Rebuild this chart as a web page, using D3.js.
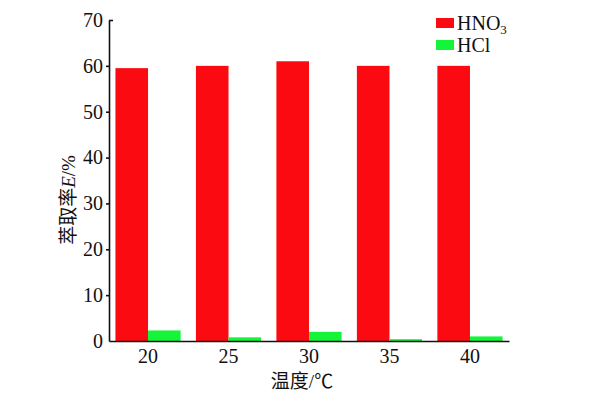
<!DOCTYPE html>
<html>
<head>
<meta charset="utf-8">
<script src="https://cdn.jsdelivr.net/npm/d3@7"></script>
<style>
  body { margin: 0; background: #fff; }
  svg text { font-family: "Liberation Serif", "Noto Sans CJK SC", serif; fill: #111; }
  .axis path, .axis line { stroke: #111; stroke-width: 1.6; }
</style>
</head>
<body>
<div class="canvas"></div>
<script>
// DATA
var temps = ['20', '25', '30', '35', '40'];
var series = ['HNO3', 'HCl'];
var hno3 = [59.5, 60, 61, 60, 60];
var hcl = [2.3, 0.8, 2.0, 0.4, 1.0];
var yTicks = [0, 10, 20, 30, 40, 50, 60, 70];

var colors = { HNO3: '#fc0a12', HCl: '#14f53a' };
var serif = '"Liberation Serif", "Times New Roman", serif';

// SIZE
var w = 596, h = 398;
var plotLeft = 109, plotRight = 509, plotTop = 20, plotBottom = 341;

var svg = d3.select('.canvas').append('svg')
  .attr('width', w)
  .attr('height', h);

// SCALES
var x0 = d3.scaleBand()
  .domain(temps)
  .range([plotLeft, plotRight])
  .paddingInner(0.19)
  .paddingOuter(0.08);

var x1 = d3.scaleBand()
  .domain(series)
  .range([0, x0.bandwidth()]);

var y = d3.scaleLinear()
  .domain([0, 70])
  .range([plotBottom, plotTop]);

var rows = temps.map((t, i) => ({ temp: t, HNO3: hno3[i], HCl: hcl[i] }));

// BARS
svg.append('g')
  .selectAll('g')
  .data(rows)
  .enter().append('g')
    .attr('transform', d => 'translate(' + x0(d.temp) + ',0)')
  .selectAll('rect')
  .data(d => series.map(s => ({ key: s, value: d[s] })))
  .enter().append('rect')
    .attr('x', d => x1(d.key))
    .attr('y', d => y(d.value))
    .attr('width', x1.bandwidth())
    .attr('height', d => y(0) - y(d.value))
    .attr('fill', d => colors[d.key]);

// AXES
var yAxis = svg.append('g')
  .attr('class', 'axis')
  .attr('transform', 'translate(' + plotLeft + ',0)')
  .call(d3.axisLeft(y).tickValues(yTicks).tickSize(3).tickSizeOuter(0).tickPadding(3));
yAxis.attr('font-family', serif).attr('font-size', 20);
yAxis.selectAll('text').style('font-family', serif).style('font-size', '20px');
// top tick points into the plot
yAxis.selectAll('.tick').filter(d => d === 70).select('line').attr('x2', 4);
yAxis.selectAll('.tick').filter(d => d === 0).select('line').remove();

var xAxis = svg.append('g')
  .attr('class', 'axis')
  .attr('transform', 'translate(0,' + plotBottom + ')')
  .call(d3.axisBottom(x0).tickSize(0).tickSizeOuter(0).tickPadding(8));
xAxis.attr('font-family', serif).attr('font-size', 20);
xAxis.selectAll('text').style('font-family', serif).style('font-size', '20px');
xAxis.selectAll('.tick').attr('transform', d => 'translate(' + (x0(d) + x0.bandwidth() / 2) + ',0)');

// AXIS TITLES
svg.append('text')
  .attr('x', 302)
  .attr('y', 388)
  .attr('text-anchor', 'middle')
  .style('font-size', '19px')
  .text('温度/℃');

var yl = svg.append('text')
  .attr('transform', 'translate(75,200) rotate(-90)')
  .attr('text-anchor', 'middle')
  .style('font-size', '19px');
yl.append('tspan').text('萃取率');
yl.append('tspan').style('font-style', 'italic').text('E');
yl.append('tspan').text('/%');

// LEGEND
var legend = svg.append('g').attr('transform', 'translate(436,18)');
var items = legend.selectAll('g')
  .data(series)
  .enter().append('g')
    .attr('transform', (d, i) => 'translate(0,' + (i * 22) + ')');
items.append('rect')
  .attr('width', 18)
  .attr('height', 10)
  .attr('fill', d => colors[d]);
var lt = items.append('text')
  .attr('x', 21)
  .attr('y', 12)
  .style('font-size', '20px');
lt.filter(d => d === 'HNO3').each(function() {
  var t = d3.select(this);
  t.append('tspan').text('HNO');
  t.append('tspan').attr('dy', 4).style('font-size', '13px').text('3');
});
lt.filter(d => d === 'HCl').text('HCl');
</script>
</body>
</html>
